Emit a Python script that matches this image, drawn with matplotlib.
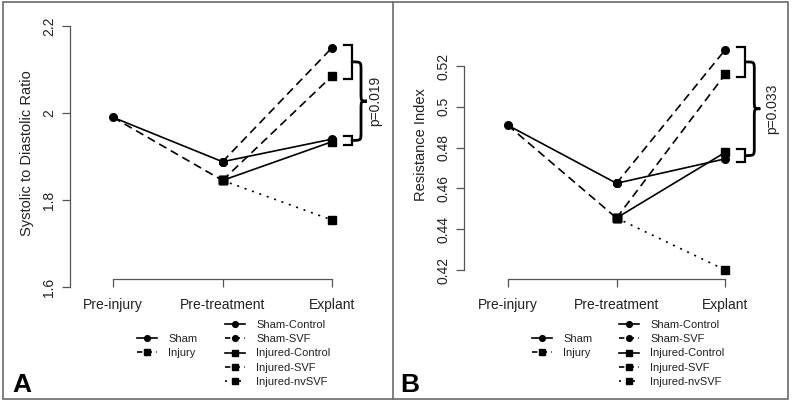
import matplotlib
matplotlib.use('Agg')
import matplotlib.pyplot as plt
from matplotlib.path import Path
from matplotlib.patches import PathPatch, Rectangle
from matplotlib.lines import Line2D
from matplotlib.ticker import FuncFormatter

plt.rcParams['font.family'] = ['Liberation Sans', 'DejaVu Sans']

# ---------------- data ----------------
timepoints = ['Pre-injury', 'Pre-treatment', 'Explant']
groups_pre = ['Sham', 'Injury']
groups_post = ['Sham-Control', 'Sham-SVF', 'Injured-Control', 'Injured-SVF', 'Injured-nvSVF']
post_parent = [0, 0, 1, 1, 1]          # which pre group each post group continues

# Panel A: systolic to diastolic ratio (Pre-injury, Pre-treatment)
sdr_sham_pre = [1.990, 1.888]
sdr_injury_pre = [1.990, 1.845]
sdr_explant = [1.940, 2.150, 1.934, 2.085, 1.754]
sdr_yticks = [1.6, 1.8, 2.0, 2.2]
sdr_pvalue = 'p=0.019'

# Panel B: resistance index
ri_sham_pre = [0.491, 0.4625]
ri_injury_pre = [0.491, 0.4455]
ri_explant = [0.4745, 0.528, 0.4777, 0.516, 0.420]
ri_yticks = [0.42, 0.44, 0.46, 0.48, 0.50, 0.52]
ri_pvalue = 'p=0.033'

# ---------------- styles ----------------
pre_styles = [('-', 'o'), ('--', 's')]
post_styles = [('-', 'o'), ('--', 'o'), ('-', 's'), ('--', 's'), (':', 's')]

W, H = 792, 403
fig = plt.figure(figsize=(W / 100, H / 100), dpi=100)

AXC = '#555555'
TXC = '#222222'
MS = 5.5


def dash_for(ls, legend=False):
    if ls == '--':
        return (0, (3.2, 2.6)) if legend else (0, (5, 3))
    if ls == ':':
        return (0, (1.2, 3.0)) if legend else (0, (1.2, 3.5))
    return '-'


def proxy(ls, mk):
    return Line2D([], [], linestyle=dash_for(ls, legend=True), color='black', lw=1.2,
                  marker=mk, ms=MS)


def panel(geom, sham_pre, injury_pre, explant, yticks, ylabel, pvalue, letter):
    L, R, T = geom['L'], geom['R'], 20
    x0p, x2p = geom['x0'], geom['x2']
    y0p, y1p = geom['ybot'], geom['ytop']
    sx = (x2p - x0p) / 2.0
    sy = (y0p - y1p) / (yticks[-1] - yticks[0])
    xlim = (0 - (x0p - L) / sx, 2 + (R - x2p) / sx)
    ylim = (yticks[0], yticks[0] + (y0p - T) / sy)

    ax = fig.add_axes([L / W, 1 - y0p / H, (R - L) / W, (y0p - T) / H])
    ax.set_xlim(*xlim)
    ax.set_ylim(*ylim)
    ax.patch.set_visible(False)
    for s in ['top', 'right', 'bottom']:
        ax.spines[s].set_visible(False)
    ax.spines['left'].set_bounds(yticks[0], yticks[-1])
    ax.spines['left'].set_color(AXC)
    ax.spines['left'].set_linewidth(0.9)
    ax.set_xticks([])
    ax.set_yticks(yticks)
    ax.yaxis.set_major_formatter(FuncFormatter(lambda v, p: '%g' % round(v, 4)))
    ax.tick_params(axis='y', direction='out', length=6, width=0.9, color=AXC,
                   labelsize=10, pad=4, labelrotation=90, labelcolor=TXC)
    for lab in ax.get_yticklabels():
        lab.set_va('center')
    ax.set_ylabel(ylabel, fontsize=10.5, color=TXC, labelpad=geom['labelpad'])

    pre_vals = [sham_pre, injury_pre]
    # injury first (marker only at pre-treatment: pre-injury point is shared with sham)
    for gi in [1, 0]:
        ls, mk = pre_styles[gi]
        ax.plot([0, 1], pre_vals[gi], linestyle=dash_for(ls), color='black',
                lw=1.2, marker=mk, ms=MS, clip_on=False, zorder=3,
                markevery=[1] if gi == 1 else None)
    for gi, g in enumerate(groups_post):
        ls, mk = post_styles[gi]
        parent = pre_vals[post_parent[gi]][1]
        ax.plot([1, 2], [parent, explant[gi]], linestyle=dash_for(ls), color='black',
                lw=1.2, marker=mk, ms=MS, clip_on=False, zorder=3)

    # separate R-style x axis
    axx = fig.add_axes([L / W, 1 - 279 / H, (R - L) / W, 0.0001])
    axx.set_xlim(*xlim)
    axx.patch.set_visible(False)
    for s in ['top', 'right', 'left']:
        axx.spines[s].set_visible(False)
    axx.spines['bottom'].set_bounds(0, 2)
    axx.spines['bottom'].set_color(AXC)
    axx.spines['bottom'].set_linewidth(0.9)
    axx.set_yticks([])
    axx.set_xticks([0, 1, 2])
    axx.set_xticklabels(timepoints)
    axx.tick_params(axis='x', direction='out', length=6, width=0.9, color=AXC,
                    labelsize=10, pad=8, labelcolor=TXC)

    # brackets and brace
    up = [explant[1], explant[3]]
    lo = [explant[0], explant[2]]
    xa = 2 + 12 / sx
    xb = 2 + 20 / sx
    pad = 3 / sy
    for pair in (up, lo):
        top, bot = max(pair) + pad, min(pair) - pad
        ax.plot([xa, xb, xb, xa], [top, top, bot, bot], color='black', lw=1.6,
                clip_on=False, solid_joinstyle='miter')
    yt = (max(up) + min(up)) / 2
    yb = (max(lo) + min(lo)) / 2
    ym = (yt + yb) / 2
    xs = xb + 9 / sx
    xt = xb + 15 / sx
    r = 8 / sy
    verts = [(xb, yt), (xs, yt), (xs, yt), (xs, yt - r),
             (xs, ym + r),
             (xs, ym), (xs, ym), (xt, ym),
             (xs, ym), (xs, ym), (xs, ym - r),
             (xs, yb + r),
             (xs, yb), (xs, yb), (xb, yb)]
    codes = [Path.MOVETO, Path.CURVE4, Path.CURVE4, Path.CURVE4,
             Path.LINETO,
             Path.CURVE4, Path.CURVE4, Path.CURVE4,
             Path.CURVE4, Path.CURVE4, Path.CURVE4,
             Path.LINETO,
             Path.CURVE4, Path.CURVE4, Path.CURVE4]
    ax.add_patch(PathPatch(Path(verts, codes), fill=False, lw=2.0, ec='black',
                           clip_on=False, capstyle='round'))
    ax.text(2 + geom['ptext'] / sx, ym, pvalue, rotation=90, ha='center', va='center',
            fontsize=10, color=TXC, clip_on=False)

    # legends
    handles_pre = [proxy(*s) for s in pre_styles]
    handles_post = [proxy(*s) for s in post_styles]
    leg_kw = dict(loc='upper left', frameon=False, fontsize=8, handlelength=1.8,
                  handletextpad=1.0, labelspacing=0.38, borderpad=0, borderaxespad=0,
                  markerscale=0.75, bbox_transform=fig.transFigure)
    lg1 = fig.legend(handles=handles_pre, labels=groups_pre,
                     bbox_to_anchor=(geom['leg1x'] / W, 1 - 334 / H), **leg_kw)
    lg2 = fig.legend(handles=handles_post, labels=groups_post,
                     bbox_to_anchor=(geom['leg2x'] / W, 1 - 320 / H), **leg_kw)
    for lg in (lg1, lg2):
        for t in lg.get_texts():
            t.set_color(TXC)

    fig.text(geom['letterx'] / W, 1 - 392 / H, letter, fontsize=19, fontweight='bold',
             ha='left', va='baseline')


geomA = dict(L=70, R=385, x0=113, x2=332, ybot=287, ytop=26, labelpad=6,
             ptext=43, leg1x=137, leg2x=225, letterx=12)
geomB = dict(L=464, R=782, x0=507.7, x2=725.3, ybot=270, ytop=66, labelpad=6,
             ptext=47, leg1x=532, leg2x=619, letterx=400)

panel(geomA, sdr_sham_pre, sdr_injury_pre, sdr_explant, sdr_yticks,
      'Systolic to Diastolic Ratio', sdr_pvalue, 'A')
panel(geomB, ri_sham_pre, ri_injury_pre, ri_explant, ri_yticks,
      'Resistance Index', ri_pvalue, 'B')

# outer frame and divider
fig.add_artist(Rectangle((2.5 / W, 4.5 / H), 785.5 / W, 396.5 / H, fill=False,
                         ec='#6a6a6a', lw=1.2, transform=fig.transFigure))
fig.add_artist(Line2D([393 / W, 393 / W], [4.5 / H, 401 / H], color='#6a6a6a', lw=1.2,
                      transform=fig.transFigure))

fig.savefig('out.png', dpi=100)
